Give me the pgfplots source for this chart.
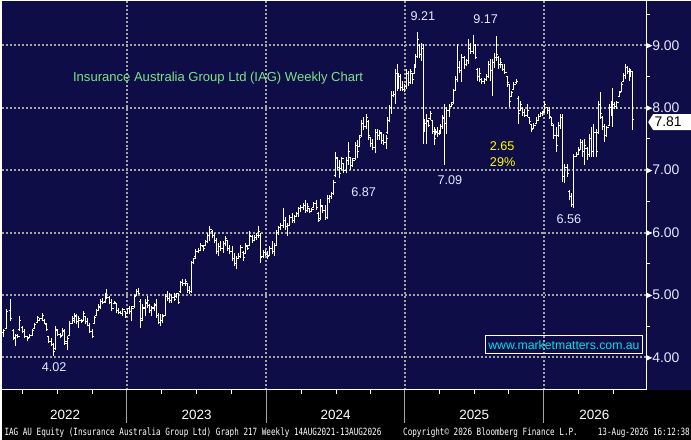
\documentclass[border=0pt]{standalone}
\usepackage{fontspec}
\setmainfont{Liberation Sans}
\newfontfamily\monofont[FakeStretch=0.766]{DejaVu Sans Mono}
\usepackage{pgfplots}
\usepackage{pgfplotstable}
\pgfplotsset{compat=1.18}
\definecolor{bgnavy}{RGB}{15,13,72}
\definecolor{gridgray}{RGB}{165,165,165}
\definecolor{lblue}{RGB}{225,235,255}
\definecolor{titlegreen}{RGB}{125,225,135}
\definecolor{wwwcyan}{RGB}{0,225,230}
\definecolor{yel}{RGB}{255,255,0}

\pgfdeclareplotmark{otick}{\pgfpathmoveto{\pgfqpoint{-1.7pt}{0pt}}\pgfpathlineto{\pgfqpoint{0pt}{0pt}}\pgfusepathqstroke}
\pgfdeclareplotmark{ctick}{\pgfpathmoveto{\pgfqpoint{0pt}{0pt}}\pgfpathlineto{\pgfqpoint{1.7pt}{0pt}}\pgfusepathqstroke}
\newcommand{\tri}{\tikz[baseline=-0.6ex]\fill[white](0,-2.6pt)--(0,2.6pt)--(5.5pt,0)--cycle;}

\pgfplotstableread{
x l h o c
1 4.33 4.45 4.40 4.43
4 4.45 4.77 4.47 4.74
8 4.58 4.93 4.75 4.62
11.7 4.28 4.45 4.43 4.32
13.3 4.18 4.37 4.30 4.35
15.7 4.31 4.37 4.35 4.33
17.3 4.42 4.66 4.45 4.60
20 4.39 4.50 4.48 4.42
22.3 4.31 4.45 4.42 4.34
25 4.26 4.34 4.33 4.30
27.3 4.31 4.37 4.32 4.35
30 4.34 4.45 4.35 4.43
32.3 4.45 4.55 4.46 4.53
35 4.55 4.66 4.56 4.64
37.3 4.58 4.63 4.60 4.62
40 4.58 4.72 4.62 4.68
42.3 4.53 4.61 4.60 4.55
44.3 4.42 4.55 4.53 4.45
46.7 4.23 4.34 4.33 4.26
49 4.18 4.31 4.25 4.20
51 4.02 4.23 4.20 4.10
53.3 4.12 4.50 4.14 4.45
55.7 4.34 4.45 4.43 4.37
58.3 4.31 4.39 4.36 4.34
60.7 4.34 4.47 4.35 4.43
62.7 4.20 4.45 4.42 4.25
65 4.12 4.34 4.22 4.30
67.3 4.34 4.58 4.35 4.55
70 4.53 4.66 4.55 4.62
72.3 4.55 4.72 4.60 4.68
74.3 4.53 4.69 4.66 4.58
76.7 4.47 4.66 4.57 4.62
79 4.55 4.61 4.60 4.58
81 4.58 4.74 4.60 4.70
83.3 4.53 4.66 4.65 4.57
85.7 4.50 4.63 4.58 4.52
87.7 4.39 4.55 4.52 4.42
90 4.31 4.45 4.42 4.34
92.3 4.53 4.66 4.55 4.64
94.3 4.66 4.77 4.67 4.75
96.7 4.74 4.85 4.75 4.82
99 4.77 4.93 4.80 4.90
101 4.85 4.96 4.90 4.88
103.3 4.88 5.04 4.90 5.00
105 4.93 5.09 5.00 4.96
107.3 4.85 4.98 4.96 4.88
110 4.74 4.93 4.88 4.78
112.3 4.85 4.90 4.86 4.88
114.3 4.72 4.88 4.86 4.75
116.7 4.69 4.80 4.76 4.72
119 4.69 4.74 4.72 4.71
121 4.66 4.80 4.70 4.77
123.3 4.63 4.74 4.73 4.66
125.7 4.69 4.80 4.70 4.78
127.7 4.69 4.82 4.78 4.74
130 4.58 4.82 4.74 4.78
132.3 4.80 5.01 4.81 4.98
134.3 4.98 5.09 4.99 5.06
136.7 5.01 5.12 5.05 5.03
139 4.47 4.93 4.90 4.60
141 4.58 4.85 4.62 4.80
143.3 4.66 4.93 4.78 4.88
145.7 4.80 4.98 4.86 4.92
147.7 4.72 4.85 4.84 4.76
150 4.66 4.82 4.76 4.80
152.3 4.74 4.88 4.78 4.84
154.3 4.63 4.93 4.85 4.68
156.7 4.53 4.72 4.68 4.56
159 4.50 4.69 4.56 4.60
161 4.55 4.69 4.60 4.66
163.3 4.66 5.01 4.67 4.98
165.7 4.90 5.06 4.98 4.95
167.7 4.88 5.04 4.95 4.92
170 4.88 5.01 4.92 4.96
172.3 4.90 5.04 4.96 4.93
174.3 4.96 5.04 4.97 5.02
176.7 4.85 5.04 5.02 4.88
179 5.04 5.23 5.05 5.20
181 5.15 5.25 5.20 5.18
183.3 5.15 5.25 5.18 5.22
185.7 5.04 5.20 5.18 5.08
187.7 5.01 5.15 5.08 5.06
190 5.04 5.55 5.06 5.52
192.3 5.49 5.60 5.52 5.58
194.3 5.60 5.73 5.61 5.70
197 5.68 5.76 5.70 5.72
199.3 5.70 5.83 5.72 5.80
201.7 5.70 5.80 5.78 5.74
204 5.78 5.88 5.79 5.86
206 5.83 5.99 5.85 5.95
208.3 5.86 6.10 5.95 6.05
210.7 5.91 6.04 6.02 5.96
212.7 5.83 5.99 5.96 5.88
215 5.65 5.91 5.88 5.70
217.3 5.62 5.83 5.70 5.78
219.3 5.70 5.86 5.78 5.74
221.7 5.67 5.86 5.74 5.82
224 5.78 5.94 5.82 5.90
226 5.70 5.88 5.88 5.75
228.3 5.65 5.80 5.75 5.70
230.7 5.54 5.78 5.70 5.58
232.7 5.46 5.67 5.58 5.50
235 5.41 5.62 5.50 5.58
237.3 5.57 5.67 5.58 5.62
239.3 5.59 5.80 5.62 5.76
241.7 5.54 5.70 5.68 5.60
244 5.65 5.83 5.66 5.80
246 5.72 5.80 5.78 5.75
248.3 5.78 6.02 5.80 5.96
250.7 5.83 5.96 5.94 5.88
252.7 5.86 5.96 5.88 5.92
255 5.88 5.99 5.92 5.96
257.3 5.91 6.10 5.96 6.02
259.3 5.51 5.99 5.96 5.60
261.7 5.59 5.72 5.62 5.68
264 5.62 5.72 5.68 5.65
266 5.57 5.70 5.65 5.62
268.3 5.62 5.78 5.63 5.74
270.7 5.65 5.86 5.74 5.70
272.7 5.62 5.83 5.70 5.80
275 5.78 6.04 5.80 6.00
277.3 5.96 6.10 6.00 6.08
279.3 6.04 6.15 6.08 6.12
281.7 6.07 6.39 6.12 6.20
284 6.04 6.25 6.20 6.10
286 5.94 6.15 6.10 6.12
288.3 6.10 6.28 6.12 6.24
290.7 6.15 6.31 6.24 6.20
292.7 6.15 6.28 6.20 6.26
295 6.25 6.33 6.26 6.30
297.3 6.25 6.41 6.30 6.38
299.3 6.33 6.44 6.38 6.40
301.7 6.36 6.47 6.40 6.44
304 6.31 6.52 6.44 6.36
306 6.33 6.47 6.36 6.42
308.3 6.31 6.39 6.38 6.34
310.7 6.33 6.39 6.34 6.37
312.7 6.39 6.49 6.40 6.46
315 6.36 6.52 6.46 6.40
317.3 6.17 6.33 6.30 6.20
319.3 6.20 6.54 6.22 6.44
321.7 6.31 6.44 6.42 6.35
324 6.20 6.44 6.35 6.25
326 6.22 6.60 6.25 6.55
328.3 6.47 6.60 6.55 6.58
330.7 6.54 6.65 6.58 6.62
332.7 6.60 6.84 6.62 6.80
334 6.89 7.29 6.92 7.20
336 7.00 7.21 7.18 7.05
338.3 6.87 7.16 7.05 6.95
340.7 7.00 7.21 7.02 7.18
342.7 6.95 7.11 7.10 7.00
345 6.95 7.21 7.00 7.15
347.3 7.08 7.45 7.15 7.30
349.3 7.00 7.21 7.20 7.08
351.7 7.05 7.19 7.08 7.15
354 7.16 7.45 7.18 7.40
356 7.19 7.48 7.40 7.30
358.3 7.37 7.56 7.38 7.52
360.7 7.53 7.80 7.55 7.75
362.7 7.64 7.85 7.75 7.70
365 7.66 7.90 7.70 7.85
367.3 7.48 7.80 7.78 7.55
369.3 7.37 7.53 7.52 7.42
371.7 7.32 7.50 7.42 7.36
374 7.27 7.66 7.36 7.60
376 7.48 7.66 7.60 7.55
378.3 7.48 7.64 7.55 7.60
380.7 7.42 7.61 7.58 7.48
382.7 7.40 7.58 7.48 7.45
385 7.34 7.56 7.45 7.50
386.7 7.58 7.85 7.60 7.80
388.3 7.77 8.04 7.80 8.00
390 7.90 8.27 8.00 8.20
392.3 8.17 8.27 8.20 8.22
394 8.06 8.62 8.22 8.55
396 8.27 8.70 8.55 8.35
397.7 8.30 8.56 8.35 8.50
400 8.27 8.54 8.50 8.32
401.7 8.27 8.43 8.32 8.30
404 8.25 8.38 8.30 8.34
405.7 8.30 8.62 8.34 8.55
407.7 8.35 8.59 8.55 8.40
409.3 8.38 8.62 8.40 8.58
411.7 8.38 8.56 8.55 8.45
413.3 8.54 8.70 8.55 8.66
415 8.64 8.86 8.66 8.82
416.7 8.80 9.21 8.82 9.10
419 8.80 9.02 9.00 8.85
420.7 8.75 9.04 8.85 8.95
422.3 7.42 9.02 8.95 7.70
424 7.61 7.82 7.70 7.75
425.7 7.42 7.90 7.75 7.80
427.7 7.69 7.80 7.78 7.72
429.3 7.80 7.95 7.82 7.90
431.7 7.58 7.80 7.80 7.62
433.3 7.40 7.69 7.62 7.50
435 7.56 7.66 7.58 7.62
436.7 7.53 7.69 7.60 7.58
438.3 7.56 7.64 7.58 7.60
440 7.58 7.74 7.60 7.70
441.7 7.66 7.88 7.70 7.82
444 7.09 8.06 7.85 7.75
446 7.58 8.01 7.75 7.95
448.3 7.85 8.06 7.95 8.02
450.7 8.01 8.09 8.02 8.06
452.7 8.06 8.30 8.08 8.28
455 8.27 8.51 8.28 8.45
456.7 8.41 9.02 8.45 8.65
459 8.56 8.75 8.65 8.60
461 8.41 8.86 8.60 8.80
463.3 8.62 8.83 8.80 8.70
465.7 8.67 8.78 8.70 8.75
467.7 8.70 9.10 8.75 8.95
470 8.86 9.04 8.95 8.90
472.3 8.86 9.17 8.90 9.00
474.3 8.78 9.02 9.00 8.80
476.7 8.43 8.64 8.62 8.50
479 8.41 8.64 8.50 8.55
481 8.38 8.48 8.46 8.42
483.3 8.38 8.48 8.42 8.45
485.7 8.43 8.54 8.45 8.50
487.7 8.48 8.75 8.50 8.70
490 8.43 8.78 8.70 8.60
492.3 8.19 8.78 8.60 8.72
494.3 8.64 8.88 8.72 8.80
495.7 8.75 9.15 8.80 8.85
497.7 8.62 8.83 8.80 8.70
500 8.64 8.80 8.70 8.72
502.3 8.59 8.70 8.70 8.62
504.3 8.54 8.70 8.62 8.56
506.7 8.33 8.51 8.50 8.40
509 8.01 8.38 8.38 8.10
511 8.17 8.27 8.18 8.24
513.3 8.28 8.41 8.30 8.38
515.7 8.38 8.46 8.40 8.42
517.7 7.74 8.19 8.15 7.90
520 7.95 8.11 7.96 8.05
522.3 7.87 8.01 7.98 7.92
524.3 7.85 7.98 7.92 7.88
526.7 7.85 8.06 7.88 7.95
529 7.74 7.85 7.84 7.78
531 7.61 7.74 7.73 7.65
533.3 7.66 7.76 7.67 7.72
535.7 7.74 7.85 7.75 7.80
537.7 7.79 7.90 7.80 7.86
540 7.85 7.93 7.86 7.90
542.3 7.87 7.95 7.90 7.93
544.3 7.93 8.11 7.94 8.05
546.7 7.90 8.01 8.00 7.95
549 7.82 8.01 7.95 7.86
551 7.71 7.85 7.84 7.75
553.3 7.50 7.74 7.72 7.55
555.7 7.29 7.69 7.55 7.40
557.7 7.53 7.77 7.55 7.72
560 7.66 7.90 7.72 7.85
562.3 6.81 7.90 7.85 6.90
564.3 6.79 7.10 6.90 7.05
566.7 6.89 7.10 7.05 6.95
569 6.52 6.68 6.66 6.58
571 6.41 6.63 6.58 6.45
573.3 6.39 7.26 6.45 7.22
575.7 7.21 7.29 7.22 7.25
577.7 7.24 7.37 7.25 7.32
580 7.32 7.50 7.33 7.45
582.3 7.21 7.48 7.45 7.30
584.3 7.08 7.50 7.30 7.40
586.7 7.16 7.37 7.35 7.25
589 7.21 7.58 7.25 7.50
591 7.21 7.69 7.50 7.30
593.3 7.21 7.74 7.30 7.60
595.7 7.21 7.66 7.60 7.30
597.7 7.58 8.11 7.60 8.05
600 7.82 8.25 8.05 7.90
602.3 7.64 7.87 7.85 7.70
604.3 7.45 7.74 7.70 7.55
606.7 7.53 7.71 7.55 7.68
609 7.71 8.06 7.72 8.00
611 7.87 8.11 8.00 7.95
612.3 7.69 8.32 7.95 8.05
614.3 7.98 8.09 8.05 8.02
616.7 7.98 8.11 8.02 8.08
619 8.17 8.27 8.18 8.24
621 8.25 8.41 8.26 8.38
623.3 8.41 8.56 8.42 8.52
625.7 8.46 8.70 8.52 8.65
627.7 8.54 8.67 8.65 8.58
629 8.43 8.64 8.58 8.50
630.7 8.51 8.62 8.52 8.58
632.3 7.64 8.59 8.58 7.81
}\iag

\begin{document}
\begin{tikzpicture}[x=1pt,y=1pt]
\fill[black] (0,0) rectangle (691,440);
\fill[bgnavy] (0,50) rectangle (691,440);
\begin{axis}[at={(0pt,50pt)}, anchor=south west, scale only axis,
  width=646pt, height=390pt,
  xmin=0, xmax=646, ymin=3.484, ymax=9.71,
  axis x line*=bottom, axis y line*=right,
  axis line style={white, line width=1pt, -},
  xtick={125,265,404,543}, xticklabels={},
  minor xtick={20.5,55.3,90.1,160,195,230,300,335,369.5,439,473.5,508,578,613},
  ytick={4,5,6,7,8,9},
  yticklabels={{\tri4.00},{\tri5.00},{\tri6.00},{\tri7.00},{\tri8.00},{\tri9.00}},
  minor ytick={4.5,5.5,6.5,7.5,8.5,9.5},
  major tick length=0pt, minor tick length=4pt, tick align=outside,
  every minor tick/.style={white, line width=1pt},
  yticklabel style={font=\fontsize{14}{14}\selectfont, text=lblue, anchor=west, inner sep=0pt, xshift=0.5pt},
  /pgf/number format/assume math mode=true,
  grid=major,
  major grid style={gridgray, line width=2pt, dash pattern=on 2pt off 2pt},
  clip=false,
]
\addplot[draw=none, mark=none, forget plot,
  error bars/.cd, y dir=plus, y explicit, error mark=none,
  error bar style={draw=white, solid, line width=1pt}]
  table[x=x, y=l, y error expr=\thisrow{h}-\thisrow{l}] {\iag};
\addplot[only marks, mark=otick, mark options={white, line width=1pt}] table[x=x, y=o] {\iag};
\addplot[only marks, mark=ctick, mark options={white, line width=1pt}] table[x=x, y=c] {\iag};
\end{axis}
% year separators below axis
\foreach \xx in {125,265,404,543} {\draw[gridgray, line width=1pt] (\xx,50) -- (\xx,17);}
% year labels
\begin{scope}[every node/.style={text=white, font=\fontsize{13.5}{13.5}\selectfont, anchor=base}]
\node at (63,20) {2022};
\node at (195,20) {2023};
\node at (334.5,20) {2024};
\node at (473.5,20) {2025};
\node at (594,20) {2026};
\end{scope}
% bottom text
\begin{scope}[every node/.style={text=white, font=\monofont\fontsize{10}{10}\selectfont, inner sep=0pt}]
\node[anchor=base west] at (2,4.3) {IAG AU Equity (Insurance Australia Group Ltd) Graph 217 Weekly 14AUG2021-13AUG2026};
\node[anchor=base west] at (402,4.3) {Copyright© 2026 Bloomberg Finance L.P.};
\node[anchor=base east] at (690,4.3) {13-Aug-2026 16:12:38};
\end{scope}
% value labels
\begin{scope}[every node/.style={text=lblue, font=\fontsize{12.7}{12.7}\selectfont, inner sep=0pt}]
\node at (422,425) {9.21};
\node at (485,422) {9.17};
\node at (362.5,248) {6.87};
\node at (449,260) {7.09};
\node at (568.5,221.5) {6.56};
\node at (52,73) {4.02};
\end{scope}
\node[text=yel, font=\fontsize{12.7}{12.7}\selectfont, inner sep=0pt] at (501.5,294.5) {2.65};
\node[text=yel, font=\fontsize{12.7}{12.7}\selectfont, inner sep=0pt] at (502,278.5) {29\%};
\node[text=titlegreen, font=\fontsize{13.1}{13.1}\selectfont, inner sep=0pt] at (216.5,363) {Insurance Australia Group Ltd (IAG) Weekly Chart};
% website box
\draw[white, line width=1pt] (485,86) rectangle (642,104);
\node[text=wwwcyan, font=\fontsize{12.3}{12.3}\selectfont, inner sep=0pt] at (563.5,95) {www.marketmatters.com.au};
% last price tag
\fill[white] (648,318.5) -- (653,326.5) -- (691,326.5) -- (691,310.5) -- (653,310.5) -- cycle;
\node[text=black, font=\fontsize{14}{14}\selectfont, inner sep=0pt] at (668,318.5) {7.81};
\end{tikzpicture}
\end{document}
